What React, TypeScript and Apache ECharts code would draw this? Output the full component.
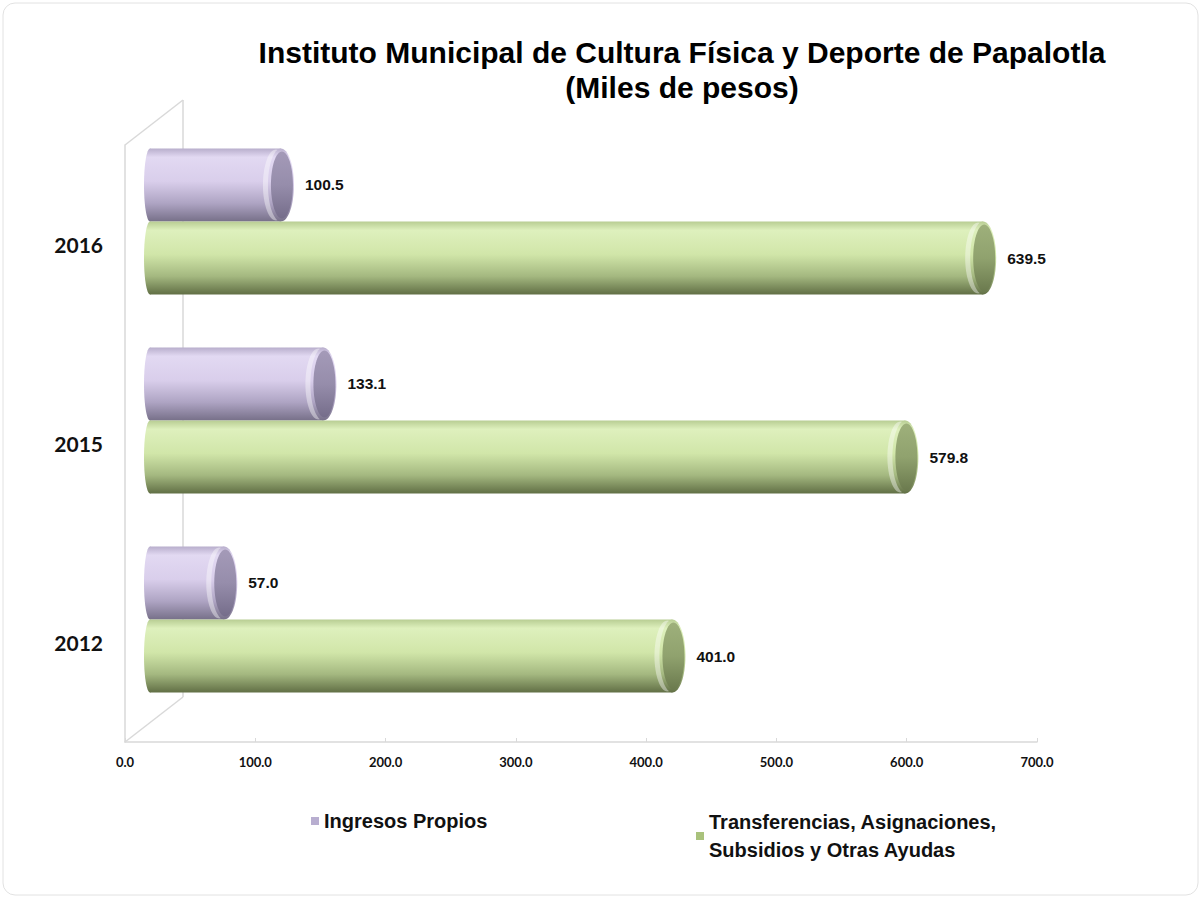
import React, { useEffect, useRef } from "react";
import * as echarts from "echarts";

const years = ["2012", "2015", "2016"];
const ingresosPropios = [57.0, 133.1, 100.5];
const transferencias = [401.0, 579.8, 639.5];
const seriesNames = ["Ingresos Propios", "Transferencias, Asignaciones, Subsidios y Otras Ayudas"];
const titleLines = ["Instituto Municipal de Cultura Física y Deporte de Papalotla", "(Miles de pesos)"];
const xMin = 0;
const xMax = 700;
const xInterval = 100;

const purple = {
  body: [
    [0, "#b8aecc"], [0.12, "#e2d9f2"], [0.45, "#d9ceeb"], [0.75, "#aea4c3"], [1, "#777089"],
  ],
  face: [[0, "#a49ab8"], [0.5, "#968dab"], [1, "#756d8a"]],
  legend: "#b8aed0",
};
const green = {
  body: [
    [0, "#b8cd93"], [0.12, "#def0bd"], [0.45, "#d1e6a9"], [0.75, "#a4b880"], [1, "#616f45"],
  ],
  face: [[0, "#9eb07b"], [0.5, "#90a26e"], [1, "#6b7a4e"]],
  legend: "#a9c27c",
};

function vGrad(stops: any[]) {
  return new echarts.graphic.LinearGradient(0, 0, 0, 1, stops.map((s) => ({ offset: s[0], color: s[1] })));
}

function makeRender(pal: any, upper: boolean) {
  return (params: any, api: any) => {
    const v = api.value(0);
    const ci = api.value(1);
    const p0 = api.coord([0, ci]);
    const p1 = api.coord([v, ci]);
    const band = api.size([0, 1])[1];
    const h = band * 0.367;
    const yTop = upper ? p0[1] - h : p0[1];
    const cy = yTop + h / 2;
    const x0 = p0[0];
    const x1 = p1[0];
    const rx = 13;
    return {
      type: "group",
      children: [
        { type: "rect", shape: { x: x0, y: yTop, width: x1 - x0, height: h }, style: { fill: vGrad(pal.body) } },
        { type: "ellipse", shape: { cx: x0, cy, rx: 6, ry: h / 2 }, style: { fill: vGrad(pal.body) } },
        { type: "ellipse", shape: { cx: x1 - 5, cy, rx: rx, ry: h / 2 - 1 }, style: { fill: "rgba(255,255,255,0.4)" } },
        { type: "ellipse", shape: { cx: x1, cy, rx: rx, ry: h / 2 }, style: { fill: vGrad(pal.body) } },
        { type: "ellipse", shape: { cx: x1 + 1, cy, rx: rx - 2, ry: h / 2 - 3 }, style: { fill: vGrad(pal.face) } },
        {
          type: "text",
          style: {
            x: x1 + rx + 11,
            y: cy,
            text: v.toFixed(1),
            fill: "#111",
            font: "bold 15.5px 'Liberation Sans', Arial, sans-serif",
            verticalAlign: "middle",
            align: "left",
          },
        },
      ],
    };
  };
}

export default function App() {
  const ref = useRef<HTMLDivElement>(null);
  useEffect(() => {
    if (!ref.current) return;
    const chart = echarts.init(ref.current, null, { renderer: "svg" });
    const lineColor = "#d9d9d9";
    chart.setOption({
      animation: false,
      backgroundColor: "#ffffff",
      title: {
        text: titleLines.join("\n"),
        left: 677,
        top: 30,
        textAlign: "center",
        textStyle: {
          fontFamily: "'Liberation Sans', Arial, sans-serif",
          fontWeight: "bold",
          fontSize: 30,
          lineHeight: 35,
          color: "#000",
        },
      },
      legend: [
        {
          data: [seriesNames[0]],
          left: 311,
          top: 811,
          padding: 0,
          itemWidth: 8,
          itemHeight: 8,
          icon: "rect",
          textStyle: { fontFamily: "'Liberation Sans', Arial, sans-serif", fontWeight: "bold", fontSize: 20, color: "#111" },
        },
        {
          data: [seriesNames[1]],
          left: 696,
          top: 808,
          padding: 0,
          itemWidth: 8,
          itemHeight: 8,
          icon: "rect",
          formatter: (n: string) => n.replace(", Subsidios", ",\nSubsidios"),
          textStyle: { fontFamily: "'Liberation Sans', Arial, sans-serif", fontWeight: "bold", fontSize: 20, lineHeight: 28, color: "#111" },
        },
      ],
      grid: [
        { left: 125, top: 145, width: 912, height: 597, containLabel: false },
        { left: 150, top: 122, width: 912, height: 597, containLabel: false },
      ],
      xAxis: [
        {
          type: "value",
          gridIndex: 0,
          min: xMin,
          max: xMax,
          interval: xInterval,
          axisLine: { show: true, lineStyle: { color: lineColor, width: 1.5 } },
          axisTick: { show: true, length: 4, inside: true, lineStyle: { color: lineColor } },
          splitLine: { show: false },
          axisLabel: {
            formatter: (v: number) => v.toFixed(1),
            fontFamily: "Lato, 'Open Sans', sans-serif",
            fontWeight: "bold",
            fontSize: 13,
            color: "#111",
            margin: 13,
          },
        },
        { type: "value", gridIndex: 1, min: xMin, max: xMax, show: false },
      ],
      yAxis: [
        {
          type: "category",
          gridIndex: 0,
          data: years,
          axisLine: { show: true, lineStyle: { color: lineColor, width: 1.5 } },
          axisTick: { show: false },
          axisLabel: {
            fontFamily: "Lato, 'Open Sans', sans-serif",
            fontWeight: "bold",
            fontSize: 21,
            color: "#111",
            margin: 22,
          },
        },
        { type: "category", gridIndex: 1, data: years, show: false },
      ],
      graphic: [
        {
          type: "rect",
          shape: { x: 3, y: 3, width: 1195, height: 892, r: 12 },
          style: { fill: "none", stroke: "#e2e2e2", lineWidth: 1 },
          z: -10,
        },
        { type: "line", shape: { x1: 125, y1: 145, x2: 183, y2: 100 }, style: { stroke: lineColor, lineWidth: 1.5 }, z: 0 },
        { type: "line", shape: { x1: 183, y1: 100, x2: 183, y2: 697 }, style: { stroke: lineColor, lineWidth: 1.5 }, z: 0 },
        { type: "line", shape: { x1: 125, y1: 742, x2: 183, y2: 697 }, style: { stroke: lineColor, lineWidth: 1.5 }, z: 0 },
      ],
      series: [
        {
          name: seriesNames[0],
          type: "custom",
          xAxisIndex: 1,
          yAxisIndex: 1,
          itemStyle: { color: purple.legend },
          encode: { x: 0, y: 1 },
          data: ingresosPropios.map((v, i) => [v, i]),
          renderItem: makeRender(purple, true),
          z: 5,
        },
        {
          name: seriesNames[1],
          type: "custom",
          xAxisIndex: 1,
          yAxisIndex: 1,
          itemStyle: { color: green.legend },
          encode: { x: 0, y: 1 },
          data: transferencias.map((v, i) => [v, i]),
          renderItem: makeRender(green, false),
          z: 5,
        },
      ],
    });
    return () => chart.dispose();
  }, []);
  return <div ref={ref} style={{ position: "absolute", left: 0, top: 0, width: 1203, height: 899 }} />;
}
